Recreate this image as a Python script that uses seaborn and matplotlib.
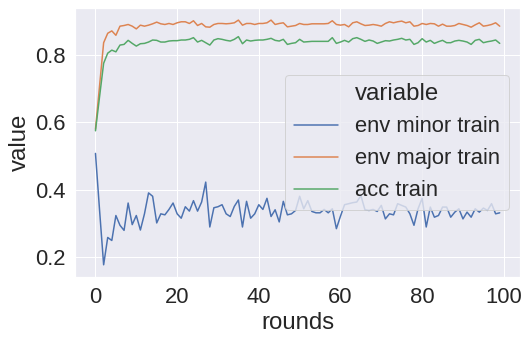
import pandas as pd
import numpy as np
import seaborn as sns
import matplotlib.pyplot as plt

rounds = list(range(100))

env_minor_train = [
    0.508, 0.340, 0.178, 0.259, 0.250, 0.324, 0.295, 0.280, 0.361, 0.297,
    0.324, 0.281, 0.329, 0.391, 0.381, 0.302, 0.329, 0.326, 0.342, 0.361,
    0.329, 0.316, 0.350, 0.337, 0.368, 0.337, 0.364, 0.423, 0.290, 0.347,
    0.350, 0.356, 0.329, 0.321, 0.351, 0.370, 0.290, 0.366, 0.316, 0.329,
    0.356, 0.342, 0.375, 0.321, 0.341, 0.305, 0.366, 0.326, 0.329, 0.339,
    0.381, 0.344, 0.368, 0.336, 0.332, 0.332, 0.342, 0.332, 0.344, 0.285,
    0.322, 0.356, 0.359, 0.362, 0.364, 0.383, 0.341, 0.339, 0.342, 0.336,
    0.354, 0.314, 0.329, 0.326, 0.359, 0.354, 0.349, 0.329, 0.295, 0.344,
    0.375, 0.290, 0.349, 0.319, 0.324, 0.349, 0.349, 0.319, 0.334, 0.344,
    0.314, 0.334, 0.319, 0.344, 0.334, 0.346, 0.339, 0.359, 0.329, 0.332,
]

env_major_train = [
    0.580, 0.708, 0.836, 0.864, 0.871, 0.858, 0.885, 0.887, 0.890, 0.885,
    0.877, 0.888, 0.885, 0.888, 0.892, 0.897, 0.892, 0.890, 0.893, 0.890,
    0.895, 0.898, 0.898, 0.893, 0.901, 0.887, 0.893, 0.883, 0.882, 0.890,
    0.893, 0.893, 0.892, 0.893, 0.895, 0.903, 0.888, 0.893, 0.893, 0.890,
    0.893, 0.893, 0.895, 0.903, 0.890, 0.893, 0.895, 0.883, 0.885, 0.887,
    0.893, 0.890, 0.890, 0.892, 0.892, 0.892, 0.892, 0.893, 0.901, 0.890,
    0.888, 0.890, 0.883, 0.895, 0.898, 0.892, 0.887, 0.888, 0.890, 0.888,
    0.885, 0.893, 0.898, 0.895, 0.898, 0.900, 0.895, 0.898, 0.885, 0.887,
    0.893, 0.890, 0.893, 0.892, 0.885, 0.891, 0.885, 0.885, 0.887, 0.893,
    0.890, 0.887, 0.882, 0.889, 0.895, 0.885, 0.887, 0.890, 0.895, 0.885,
]

acc_train = [
    0.575, 0.676, 0.775, 0.805, 0.814, 0.809, 0.829, 0.831, 0.843, 0.834,
    0.826, 0.833, 0.834, 0.838, 0.844, 0.843, 0.838, 0.838, 0.841, 0.842,
    0.842, 0.844, 0.844, 0.846, 0.851, 0.838, 0.843, 0.836, 0.829, 0.844,
    0.848, 0.846, 0.843, 0.841, 0.846, 0.854, 0.833, 0.844, 0.841, 0.843,
    0.844, 0.844, 0.846, 0.849, 0.843, 0.841, 0.846, 0.831, 0.834, 0.836,
    0.846, 0.838, 0.839, 0.840, 0.840, 0.840, 0.840, 0.840, 0.851, 0.834,
    0.838, 0.843, 0.838, 0.848, 0.851, 0.846, 0.840, 0.844, 0.841, 0.834,
    0.838, 0.842, 0.841, 0.844, 0.846, 0.849, 0.844, 0.846, 0.831, 0.836,
    0.848, 0.838, 0.843, 0.834, 0.839, 0.843, 0.836, 0.836, 0.841, 0.843,
    0.841, 0.838, 0.831, 0.843, 0.846, 0.836, 0.839, 0.841, 0.844, 0.834,
]

df = pd.DataFrame({
    'rounds': rounds,
    'env minor train': env_minor_train,
    'env major train': env_major_train,
    'acc train': acc_train,
})
df_long = df.melt(id_vars='rounds', var_name='variable', value_name='value')

sns.set_theme(font_scale=2)
plt.rcParams['font.family'] = ['Liberation Sans', 'DejaVu Sans']

fig, ax = plt.subplots(figsize=(530 / 72, 342 / 72), dpi=72)
fig.subplots_adjust(left=0.142, right=0.981, top=0.977, bottom=0.19)
sns.lineplot(data=df_long, x='rounds', y='value', hue='variable', ax=ax)
sns.move_legend(ax, 'center right')

fig.savefig('out.png', dpi=72)
